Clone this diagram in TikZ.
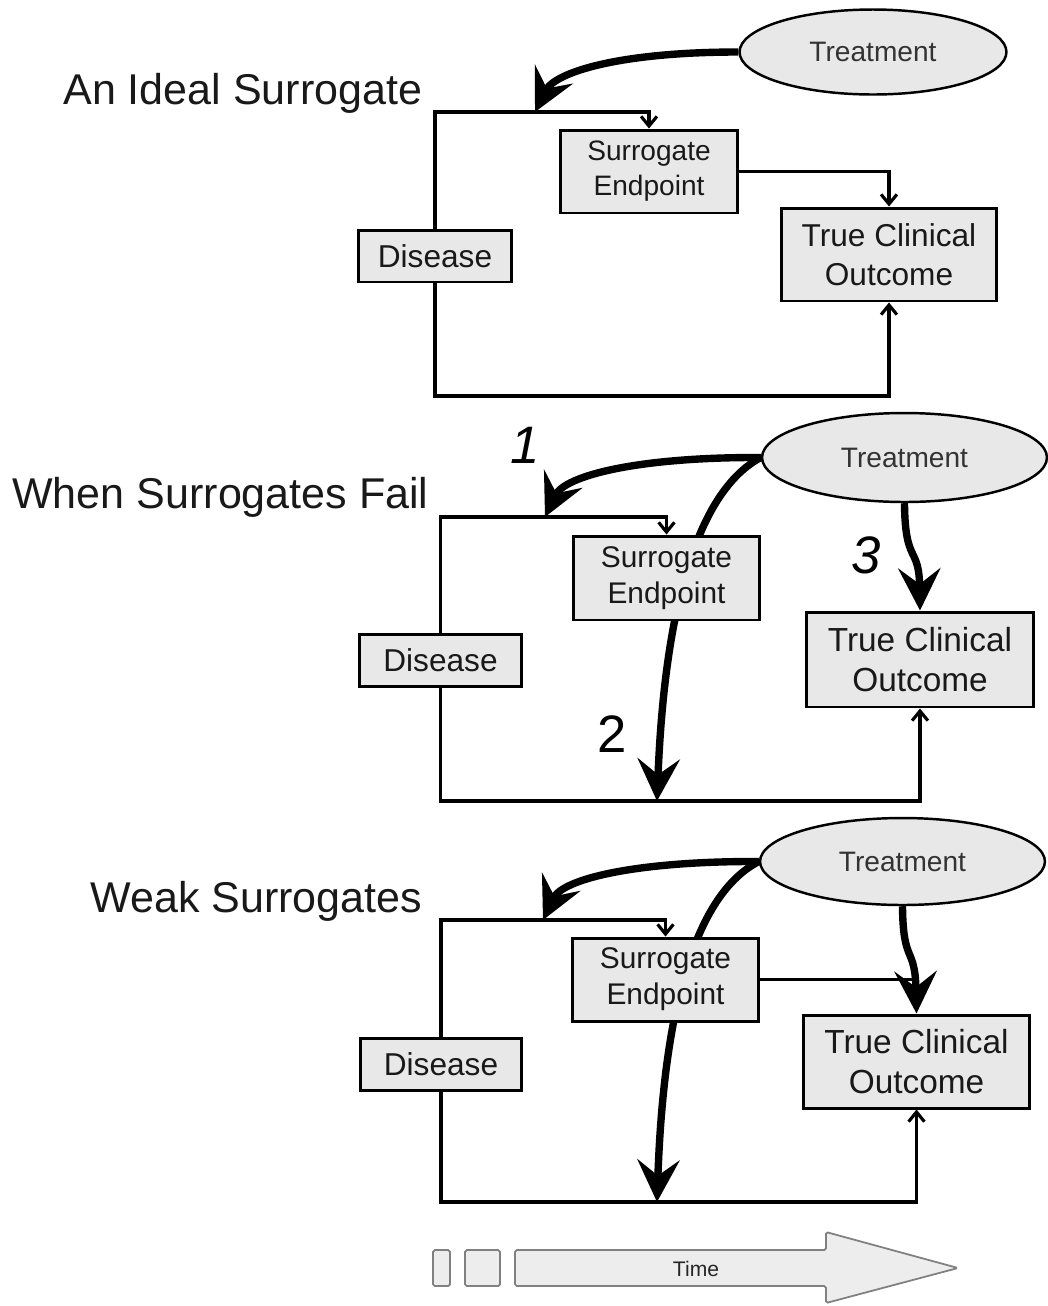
\documentclass[tikz,border=0pt]{standalone}
\usepackage{fontspec}
\setmainfont{Liberation Sans}
\usetikzlibrary{positioning}
\usetikzlibrary{shapes}
\usetikzlibrary{arrows.meta}
\definecolor{boxgray}{gray}{0.91}
\definecolor{bargray}{gray}{0.93}
\tikzstyle{box}=[draw,line width=1.7pt,fill=boxgray,inner sep=0pt,align=center,text=black!90]
\tikzstyle{treat}=[draw,ellipse,line width=1.4pt,fill=boxgray,inner sep=0pt,text=black!80,font=\fontsize{16}{19}\selectfont]
\tikzstyle{title}=[anchor=base west,inner sep=0pt,text=black!90,font=\fontsize{24.5}{29}\selectfont]
\tikzstyle{num}=[anchor=base,inner sep=0pt,font=\fontsize{30}{34}\selectfont]
\tikzstyle{link}=[line width=1.8pt,-{Straight Barb[length=5.5pt,width=9pt]}]
\tikzstyle{effect}=[line width=4.2pt,-{Stealth[length=24pt,width=24pt,inset=9pt]}]

\begin{document}
\begin{tikzpicture}[x=0.02cm,y=-0.02cm]
\useasboundingbox (0,0) rectangle (1048,1306);

% an ideal surrogate
\node[title] (t1) at (63,104) {An Ideal Surrogate};
\node[treat,minimum width=5.34cm,minimum height=1.7cm] (tr1) at (873,52) {Treatment};
\node[box,minimum width=3.08cm,minimum height=1.04cm,font=\fontsize{18}{21}\selectfont] (dis1) at (435,256) {Disease};
\node[box,minimum width=3.56cm,minimum height=1.66cm,font=\fontsize{16}{20}\selectfont] (se1) at (649,171.5) {Surrogate\\Endpoint};
\node[box,minimum width=4.32cm,minimum height=1.86cm,font=\fontsize{18}{22.5}\selectfont] (tco1) at (889,254.5) {True Clinical\\Outcome};
\coordinate (j1) at (535,112);
\coordinate (b1) at (435,396);
\draw[link] (dis1.north) |- (j1) -| (se1.north);
\draw[link] (se1.east) -| (tco1.north);
\draw[link] (dis1.south) -- (b1) -| (tco1.south);
\draw[effect] (tr1.west) .. controls (620,52) and (555,72) .. (j1);

% when surrogates fail
\node[title] (t2) at (12,508) {When Surrogates Fail};
\node[treat,minimum width=5.7cm,minimum height=1.78cm] (tr2) at (904.5,457.5) {Treatment};
\coordinate (j2) at (545,517);
\coordinate (b2) at (440.5,801);
\coordinate (m2) at (657,801);
\draw[effect] (tr2.west) .. controls (700,490) and (665,600) .. (m2);
\node[box,minimum width=3.26cm,minimum height=1.04cm,font=\fontsize{18}{21}\selectfont] (dis2) at (440.5,660) {Disease};
\node[box,minimum width=3.74cm,minimum height=1.68cm,font=\fontsize{17}{20.5}\selectfont] (se2) at (666.5,578) {Surrogate\\Endpoint};
\node[box,minimum width=4.56cm,minimum height=1.9cm,font=\fontsize{19}{23}\selectfont] (tco2) at (920,659.5) {True Clinical\\Outcome};
\draw[link] (dis2.north) |- (j2) -| (se2.north);
\draw[link] (dis2.south) -- (b2) -| (tco2.south);
\draw[effect] (tr2.west) .. controls (640,457) and (565,475) .. (j2);
\draw[effect] (tr2.south) .. controls (905,565) and (919,545) .. (tco2.north);
\node[num] (n1) at (525,463) {\textit{1}};
\node[num] (n2) at (612,752) {2};
\node[num] (n3) at (866,573) {\textit{3}};

% weak surrogates
\node[title] (t3) at (90,912) {Weak Surrogates};
\node[treat,minimum width=5.7cm,minimum height=1.74cm] (tr3) at (902.5,861.5) {Treatment};
\coordinate (j3) at (543,920);
\coordinate (b3) at (441,1202);
\coordinate (m3) at (657,1202);
\draw[effect] (tr3.west) .. controls (698,893) and (664,1000) .. (m3);
\node[box,minimum width=3.24cm,minimum height=1.04cm,font=\fontsize{18}{21}\selectfont] (dis3) at (441,1064) {Disease};
\node[box,minimum width=3.74cm,minimum height=1.66cm,font=\fontsize{17}{20.5}\selectfont] (se3) at (665.5,979.5) {Surrogate\\Endpoint};
\node[box,minimum width=4.54cm,minimum height=1.86cm,font=\fontsize{19}{23}\selectfont] (tco3) at (916.5,1061.5) {True Clinical\\Outcome};
\draw[link] (dis3.north) |- (j3) -| (se3.north);
\draw[link] (dis3.south) -- (b3) -| (tco3.south);
\draw[line width=1.8pt] (se3.east) -- (se3.east -| tco3.north);
\draw[effect] (tr3.west) .. controls (640,861) and (563,878) .. (j3);
\draw[effect] (tr3.south) .. controls (903,965) and (915,945) .. (tco3.north);

% time bar
\begin{scope}[draw=black!50,fill=bargray,line width=1pt,rounded corners=1pt]
\filldraw (433,1250) rectangle (450,1286);
\filldraw (465,1250) rectangle (500,1286);
\filldraw (515,1250) -- (826,1250) -- (826,1232) -- (958,1268) -- (826,1303) -- (826,1286) -- (515,1286) -- cycle;
\end{scope}
\node[font=\fontsize{12}{14}\selectfont,text=black!85] (time) at (696,1269) {Time};
\end{tikzpicture}
\end{document}
